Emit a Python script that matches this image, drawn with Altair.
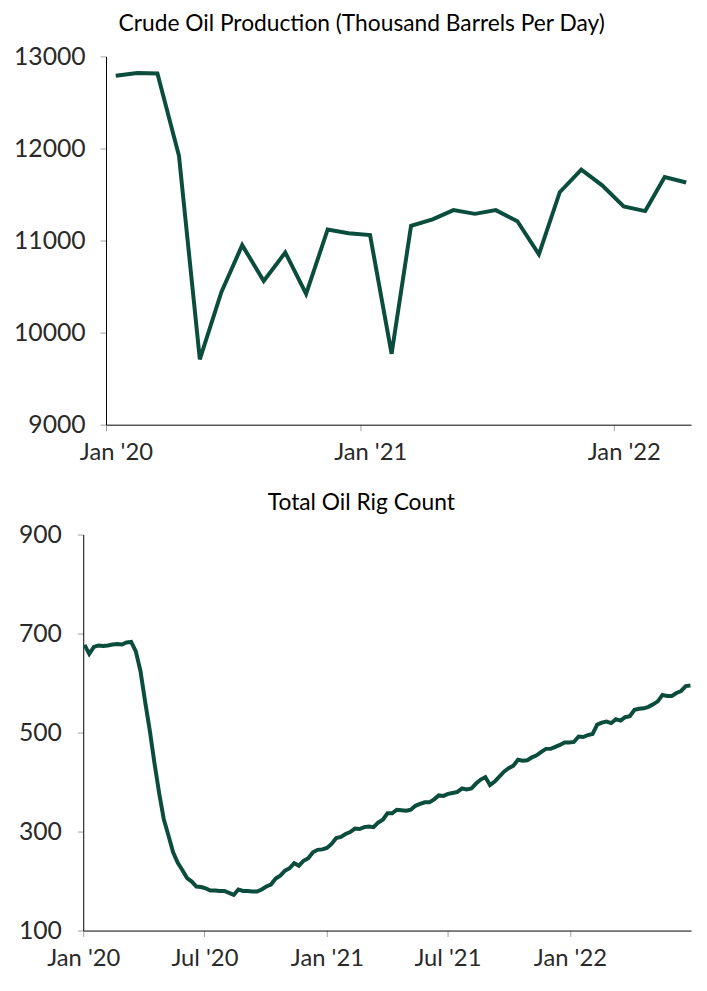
import altair as alt
import pandas as pd

FONT = "Lato"
LINE_COLOR = "#0b4d3c"

# ---- Crude oil production (thousand barrels per day), monthly Jan 2020 - Apr 2022
prod_values = [
    12790, 12820, 12815, 11920, 9710, 10440, 10950, 10560, 10870, 10420, 11120, 11080,
    11060, 9770, 11160, 11230, 11330, 11290, 11330, 11210, 10850, 11525, 11770, 11600,
    11370, 11320, 11690, 11630,
]
prod_ticks = [9000, 10000, 11000, 12000, 13000]

# ---- Total oil rig count, weekly Jan 3 2020 - Jul 1 2022
rig_start = "2020-01-03"
rig_values = [
    # 2020
    677, 659, 673, 676, 675,
    676, 678, 679, 678,
    682, 683, 664, 624,
    562, 504, 438, 378,
    325, 292, 258, 237, 222,
    206, 199, 189, 188,
    185, 181, 181, 180, 180,
    176, 172, 183, 180,
    180, 179, 179, 183,
    189, 193, 205, 211, 221,
    226, 236, 231, 241,
    246, 258, 263, 264,
    # 2021
    267, 275, 287, 289, 295,
    299, 306, 305, 309,
    310, 309, 318, 324,
    337, 337, 344, 343, 342,
    344, 352, 356, 359,
    359, 365, 373, 372,
    376, 378, 380, 387, 385,
    387, 397, 405, 410,
    394, 401, 411, 421,
    428, 433, 445, 443, 444,
    450, 454, 461, 467,
    467, 471, 475, 480, 480,
    # 2022
    481, 492, 491, 495,
    497, 516, 520, 522,
    519, 527, 524, 531,
    533, 546, 548, 549, 552,
    557, 563, 576, 574,
    574, 580, 584, 594,
    595,
]
rig_ticks = [100, 300, 500, 700, 900]

prod_dates = pd.date_range("2020-01-01", periods=len(prod_values), freq="MS") + pd.Timedelta(days=14)
prod_df = pd.DataFrame({"date": prod_dates, "value": prod_values})

rig_dates = pd.date_range(rig_start, periods=len(rig_values), freq="7D")
rig_df = pd.DataFrame({"date": rig_dates, "value": rig_values})


def dt(y, m, d):
    return alt.DateTime(year=y, month=m, date=d)


W = 614          # shared plot width (bottom panel)
TOP_SHIFT = 23   # top panel's plot starts further right (wider y labels)

title_common = dict(
    frame="bounds", anchor="middle", fontSize=23, font=FONT,
    fontWeight="normal", color="#000000",
)
x_axis_common = dict(format="%b '%y", title=None, labelPadding=10,
                     labelFlush=False, labelFontSize=24)
y_axis_common = dict(format="d", title=None, labelFontSize=25)

top = alt.Chart(prod_df).mark_line(color=LINE_COLOR, strokeWidth=4).encode(
    x=alt.X(
        "date:T",
        scale=alt.Scale(domain=[dt(2020, 1, 1), dt(2022, 4, 22)], range=[TOP_SHIFT, W]),
        axis=alt.Axis(
            values=[dt(2020, 1, 1), dt(2021, 1, 1), dt(2022, 1, 1)],
            labelOffset=10, **x_axis_common,
        ),
    ),
    y=alt.Y(
        "value:Q",
        scale=alt.Scale(domain=[9000, 13000], nice=False, zero=False),
        axis=alt.Axis(values=prod_ticks, offset=-TOP_SHIFT, labelPadding=15, **y_axis_common),
    ),
).properties(
    width=W, height=372,
    title=alt.TitleParams("Crude Oil Production (Thousand Barrels Per Day)", dx=8,
                          offset=9, **title_common),
)

bottom = alt.Chart(rig_df).mark_line(color=LINE_COLOR, strokeWidth=4).encode(
    x=alt.X(
        "date:T",
        scale=alt.Scale(domain=[dt(2020, 1, 1), dt(2022, 7, 2)]),
        axis=alt.Axis(
            values=[dt(2020, 1, 1), dt(2020, 7, 1), dt(2021, 1, 1), dt(2021, 7, 1), dt(2022, 1, 1)],
            **x_axis_common,
        ),
    ),
    y=alt.Y(
        "value:Q",
        scale=alt.Scale(domain=[100, 900], nice=False, zero=False),
        axis=alt.Axis(values=rig_ticks, labelPadding=16, **y_axis_common),
    ),
).properties(
    width=W, height=400,
    title=alt.TitleParams("Total Oil Rig Count", dx=3, offset=8, **title_common),
)

chart = alt.vconcat(top, bottom, spacing=28).properties(
    padding={"left": 5, "top": 0, "right": 0, "bottom": 0},
).configure_view(
    strokeWidth=0,
).configure_axis(
    grid=False,
    domainColor="#000000",
    domainWidth=1,
    tickColor="#a0a0a0",
    tickSize=6,
    labelFont=FONT,
    labelColor="#2a2a2a",
)

chart.save("out.html", embed_options={"renderer": "svg", "actions": False})
